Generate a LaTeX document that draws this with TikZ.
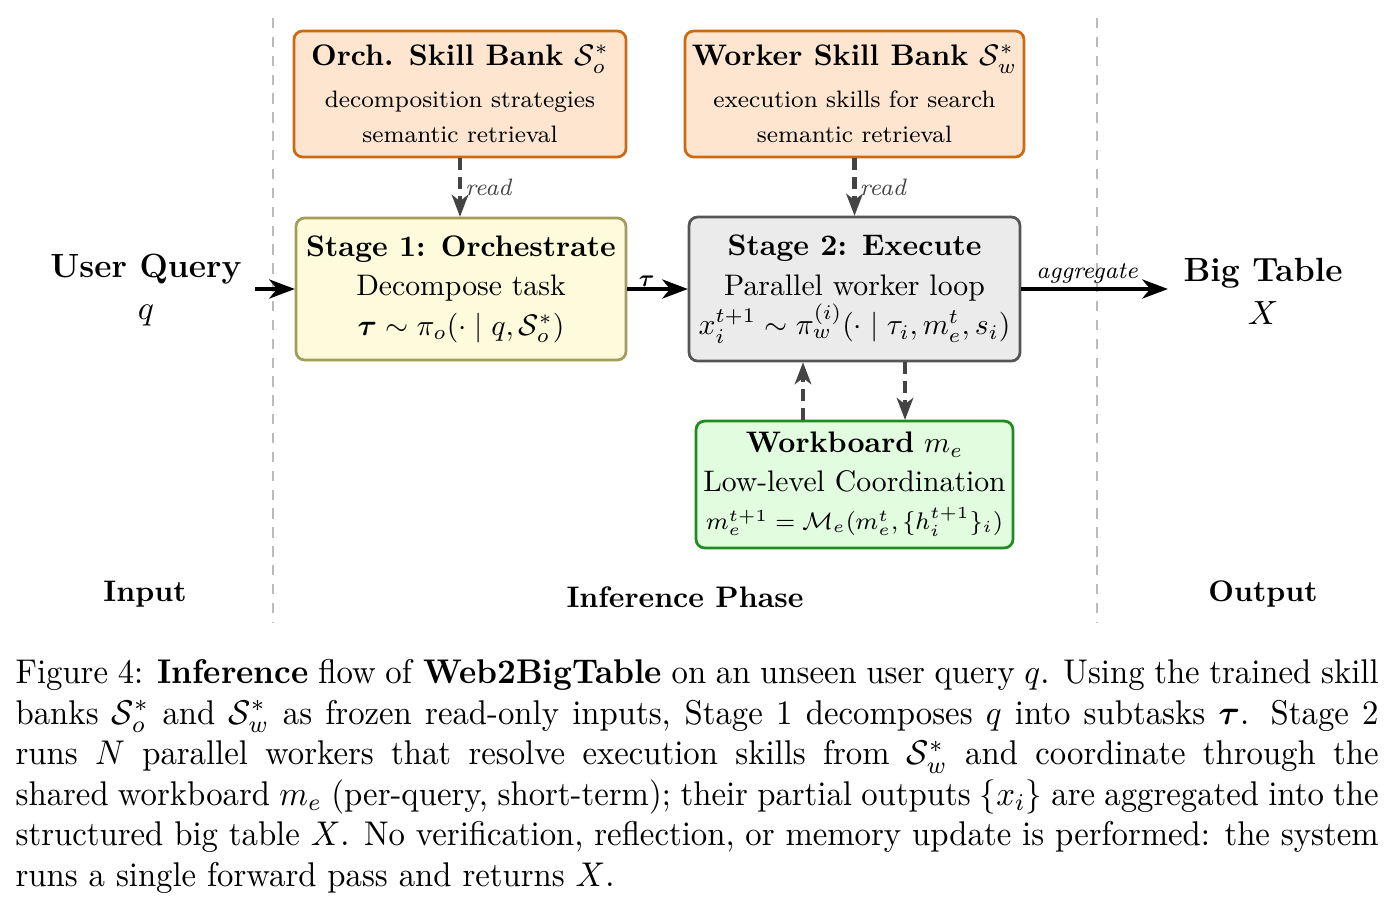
\RequirePackage{fix-cm}
\documentclass[tikz,border=0pt]{standalone}
\usepackage{amsmath,amssymb}
\usepackage{fontspec}
\usetikzlibrary{arrows.meta,calc}
\definecolor{orfill}{HTML}{FDE5CF}
\definecolor{ordraw}{HTML}{CC6A14}
\definecolor{yefill}{HTML}{FEFBDD}
\definecolor{yedraw}{HTML}{A39D5A}
\definecolor{grfill}{HTML}{EBEBEC}
\definecolor{grdraw}{HTML}{555555}
\definecolor{gnfill}{HTML}{E2FCE0}
\definecolor{gndraw}{HTML}{1F8C1F}
\definecolor{darkarrow}{HTML}{444444}
\definecolor{sepgray}{HTML}{BBBBBB}
\begin{document}
\begin{tikzpicture}[x=0.29155pt,y=-0.29155pt,
  sc/.style={scale=0.866},
  box/.style={sc, rounded corners=2.5pt, line width=0.8pt, inner sep=0pt, align=center,
    font=\fontsize{10}{13.3}\selectfont},
  bankbox/.style={box, fill=orfill, draw=ordraw, font=\fontsize{8}{11.8}\selectfont},
  mainarrow/.style={line width=1pt, -{Stealth[length=7.5pt,width=5.6pt,inset=2.3pt]}},
  readarrow/.style={draw=darkarrow, line width=1.2pt, dash pattern=on 3.5pt off 2pt,
    -{Stealth[length=6.4pt,width=4.8pt,inset=1.8pt]}},
  readlabel/.style={sc, font=\fontsize{8}{9}\selectfont\itshape, text=darkarrow, inner sep=1.2pt},
  sidelabel/.style={sc, font=\fontsize{11.3}{14.4}\selectfont, align=center, inner ysep=0pt, inner xsep=4.4pt},
  phaselabel/.style={sc, font=\fontsize{10}{12}\selectfont\bfseries, inner sep=0pt},
  sepline/.style={draw=sepgray, line width=0.5pt, dash pattern=on 3pt off 2.5pt}
]
\useasboundingbox (0,0) rectangle (1393,907);

% separators
\coordinate (sepAt) at (273,18);
\coordinate (sepAb) at (273,622);
\coordinate (sepBt) at (1097,18);
\coordinate (sepBb) at (1097,622);
\draw[sepline] (sepAt) -- (sepAb);
\draw[sepline] (sepBt) -- (sepBb);

% skill banks
\node[bankbox, minimum width=111.8pt, minimum height=42.4pt] (orch) at (460,94)
  {{\fontsize{10}{12}\selectfont\bfseries Orch. Skill Bank $\mathcal{S}_o^*$}\\[2.3pt]
   decomposition strategies\\ semantic retrieval};
\node[bankbox, minimum width=114.1pt, minimum height=42.4pt] (work) at (854.5,94)
  {{\fontsize{10}{12}\selectfont\bfseries Worker Skill Bank $\mathcal{S}_w^*$}\\[2.3pt]
   execution skills for search\\ semantic retrieval};

% stages
\node[box, fill=yefill, draw=yedraw, minimum width=111.1pt, minimum height=47.8pt] (s1) at (461,289)
  {\textbf{Stage 1: Orchestrate}\\ Decompose task\\ $\boldsymbol{\tau}\sim\pi_o(\cdot\mid q,\mathcal{S}_o^*)$};
\node[box, fill=grfill, draw=grdraw, minimum width=111.4pt, minimum height=48.5pt] (s2) at (854.5,289)
  {\textbf{Stage 2: Execute}\\ Parallel worker loop\\ $x_i^{t+1}\sim\pi_w^{(i)}(\cdot\mid\tau_i,m_e^t,s_i)$};

% workboard
\node[box, fill=gnfill, draw=gndraw, minimum width=106.7pt, minimum height=42.7pt,
      font=\fontsize{10}{12.9}\selectfont] (wb) at (854.5,484.5)
  {\textbf{Workboard} $m_e$\\ Low-level Coordination\\
   {\fontsize{8.1}{10}\selectfont $m_e^{t+1}=\mathcal{M}_e(m_e^t,\{h_i^{t+1}\}_i)$}};

% side labels
\node[sidelabel] (uq) at (146,290) {\textbf{User Query}\\ $q$};
\node[sidelabel, inner xsep=5.05pt] (bt) at (1263,291) {\textbf{Big Table}\\ $X$};

\node[phaselabel] (inp) at (145,594) {Input};
\node[phaselabel] (inf) at (685,597) {Inference Phase};
\node[phaselabel] (outp) at (1263,594) {Output};

% arrows
\draw[mainarrow] (s1.west -| uq.east) -- (s1.west);
\draw[mainarrow] (s1.east) -- node[sc, pos=0.32, above=-3pt, font=\fontsize{8}{9}\selectfont] {$\boldsymbol{\tau}$} (s2.west);
\draw[mainarrow] (s2.east) -- node[sc, pos=0.45, above=-2pt, font=\fontsize{8}{9}\selectfont\itshape] {aggregate} (s2.east -| bt.west);

\draw[readarrow] (orch.south) -- node[readlabel, right] {read} (orch.south |- s1.north);
\draw[readarrow] (work.south) -- node[readlabel, right] {read} (work.south |- s2.north);

\draw[readarrow] ($(wb.north)+(-51.5,0)$) -- ($(s2.south)+(-51.5,0)$);
\draw[readarrow] ($(s2.south)+(50.5,0)$) -- ($(wb.north)+(50.5,0)$);

% caption
\node[xscale=0.955, anchor=north west, inner sep=0pt, text width=416.1pt, align=justify,
      font=\fontsize{10}{11.8}\selectfont] (cap) at (15,659)
{Figure 4: \textbf{Inference} flow of \textbf{Web2BigTable} on an unseen user query $q$. Using the trained skill\linebreak
banks $\mathcal{S}_o^*$ and $\mathcal{S}_w^*$ as frozen read-only inputs, Stage 1 decomposes $q$ into subtasks $\boldsymbol{\tau}$. Stage 2\linebreak
runs $N$ parallel workers that resolve execution skills from $\mathcal{S}_w^*$ and coordinate through the\linebreak
shared workboard $m_e$ (per-query, short-term); their partial outputs $\{x_i\}$ are aggregated into the\linebreak
structured big table $X$. No verification, reflection, or memory update is performed: the system\linebreak
runs a single forward pass and returns $X$.};
\end{tikzpicture}
\end{document}
